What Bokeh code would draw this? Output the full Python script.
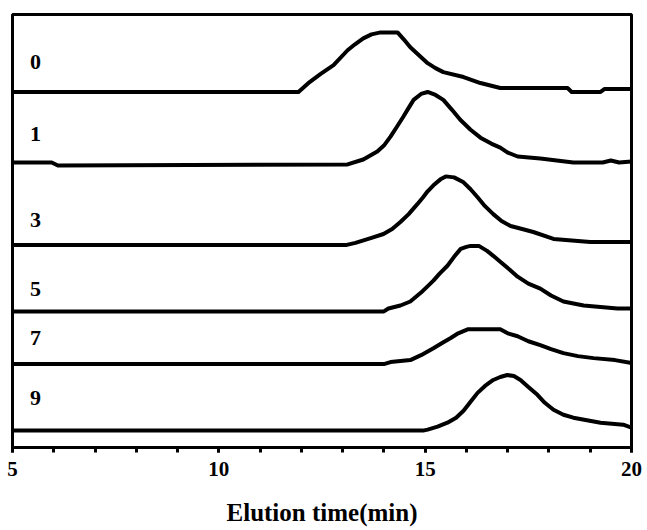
from bokeh.plotting import figure
from bokeh.models import Range1d, FixedTicker, ColumnDataSource
from bokeh.core.properties import value
from bokeh.embed import file_html
from bokeh.resources import INLINE

# ---- data (elution time in min, detector response in arbitrary units) ----
labels = ["0", "1", "3", "5", "7", "9"]

t0_x = [5, 11.93, 12.2, 12.46, 12.78, 13.12, 13.30, 13.50, 13.70, 13.92, 14.33, 14.48, 14.64, 14.85, 15.06, 15.25, 15.44, 15.93, 16.34, 16.82, 18.45, 18.55, 19.25, 19.35, 20]
t0_y = [0, 0, 10, 18, 27, 42, 48, 54, 58, 60, 60, 53, 45, 37, 29, 24, 20, 15, 9, 4, 4, 0, 0, 3, 3]

t1_x = [5, 5.95, 6.1, 13.12, 13.50, 13.84, 14.0, 14.16, 14.3, 14.47, 14.6, 14.72, 14.9, 15.06, 15.25, 15.44, 15.65, 15.85, 16.1, 16.34, 16.6, 16.82, 17.0, 17.24, 17.79, 18.59, 19.3, 19.5, 19.7, 20]
t1_y = [3, 3, 0, 1, 6, 14, 20, 29, 38, 49, 58, 66, 72, 74, 71, 66, 56, 46, 36, 28, 22, 18, 13, 9, 7, 3, 3, 5, 3, 4]

t3_x = [5, 13.1, 13.31, 13.7, 13.99, 14.2, 14.40, 14.6, 14.81, 14.95, 15.06, 15.2, 15.37, 15.5, 15.7, 15.93, 16.1, 16.27, 16.45, 16.65, 16.85, 17.07, 17.35, 17.62, 18.11, 19.00, 20]
t3_y = [0, 0, 2, 7, 11, 16, 23, 31, 41, 48, 54, 60, 66, 69, 68, 63, 56, 48, 39, 31, 24, 19, 16, 13, 6, 3, 3]

t5_x = [5, 14.0, 14.11, 14.4, 14.64, 14.9, 15.20, 15.35, 15.54, 15.7, 15.86, 16.0, 16.10, 16.30, 16.50, 16.65, 16.82, 17.05, 17.24, 17.5, 17.79, 18.05, 18.35, 18.84, 19.66, 20]
t5_y = [0, 0, 3, 6, 10, 19, 31, 38, 46, 55, 63, 65, 66, 66, 61, 56, 50, 42, 35, 28, 23, 16, 10, 6, 3, 3]

t7_x = [5, 14.0, 14.16, 14.64, 14.9, 15.20, 15.4, 15.61, 15.8, 16.03, 16.82, 17.0, 17.24, 17.5, 17.79, 18.05, 18.35, 18.7, 19.08, 19.6, 20]
t7_y = [0, 0, 2, 4, 9, 16, 21, 26, 31, 35, 35, 31, 28, 23, 19, 15, 11, 8, 6, 4, 1]

t9_x = [5, 14.95, 15.06, 15.3, 15.54, 15.75, 15.93, 16.1, 16.27, 16.45, 16.65, 16.82, 16.99, 17.15, 17.31, 17.5, 17.72, 17.9, 18.11, 18.35, 18.59, 19.25, 19.80, 20]
t9_y = [0, 0, 1, 4, 8, 13, 20, 29, 38, 45, 51, 54, 56, 55, 51, 44, 36, 28, 21, 16, 13, 8, 6, 3]

# vertical stacking offsets of each trace
offsets = [358, 284, 204, 137, 84, 17]

xs_all = [t0_x, t1_x, t3_x, t5_x, t7_x, t9_x]
ys_all = [t0_y, t1_y, t3_y, t5_y, t7_y, t9_y]

major_ticks = [5, 10, 15, 20]
minor_ticks = list(range(5, 21))

p = figure(width=645, height=528, output_backend="svg", toolbar_location=None,
           x_range=Range1d(5, 20), y_range=Range1d(0, 436),
           min_border_left=12, min_border_right=14, min_border_top=14, min_border_bottom=78)

p.background_fill_color = "white"
p.border_fill_color = "white"
p.outline_line_color = "black"
p.outline_line_width = 3
p.xgrid.visible = False
p.ygrid.visible = False
p.yaxis.visible = False

ax = p.xaxis[0]
ax.ticker = FixedTicker(ticks=major_ticks, minor_ticks=minor_ticks)
ax.axis_line_width = 3
ax.axis_line_color = "black"
ax.major_tick_line_width = 3
ax.minor_tick_line_width = 3
ax.major_tick_in = 0
ax.major_tick_out = 5
ax.minor_tick_in = 0
ax.minor_tick_out = 5
ax.major_label_text_font = "Liberation Serif"
ax.major_label_text_font_style = "bold"
ax.major_label_text_font_size = "21px"
ax.major_label_text_color = "black"
ax.major_label_standoff = 9
ax.axis_label = "Elution time(min)"
ax.axis_label_text_font = "Liberation Serif"
ax.axis_label_text_font_style = "bold"
ax.axis_label_text_font_size = "25px"
ax.axis_label_text_color = "black"
ax.axis_label_standoff = 20

for xs, ys, off in zip(xs_all, ys_all, offsets):
    yy = [off + v for v in ys]
    p.line(xs, yy, line_color="black", line_width=4, line_join="round")

label_y = [388, 316, 229, 160, 110, 50]
src = ColumnDataSource(dict(x=[5.56] * len(labels), y=label_y, t=labels))
p.text(x="x", y="y", text="t", source=src, text_align="center", text_baseline="middle",
       text_font=value("Liberation Serif"), text_font_style="bold",
       text_font_size="22px", text_color="black")

open("out.html", "w").write(file_html(p, INLINE))
